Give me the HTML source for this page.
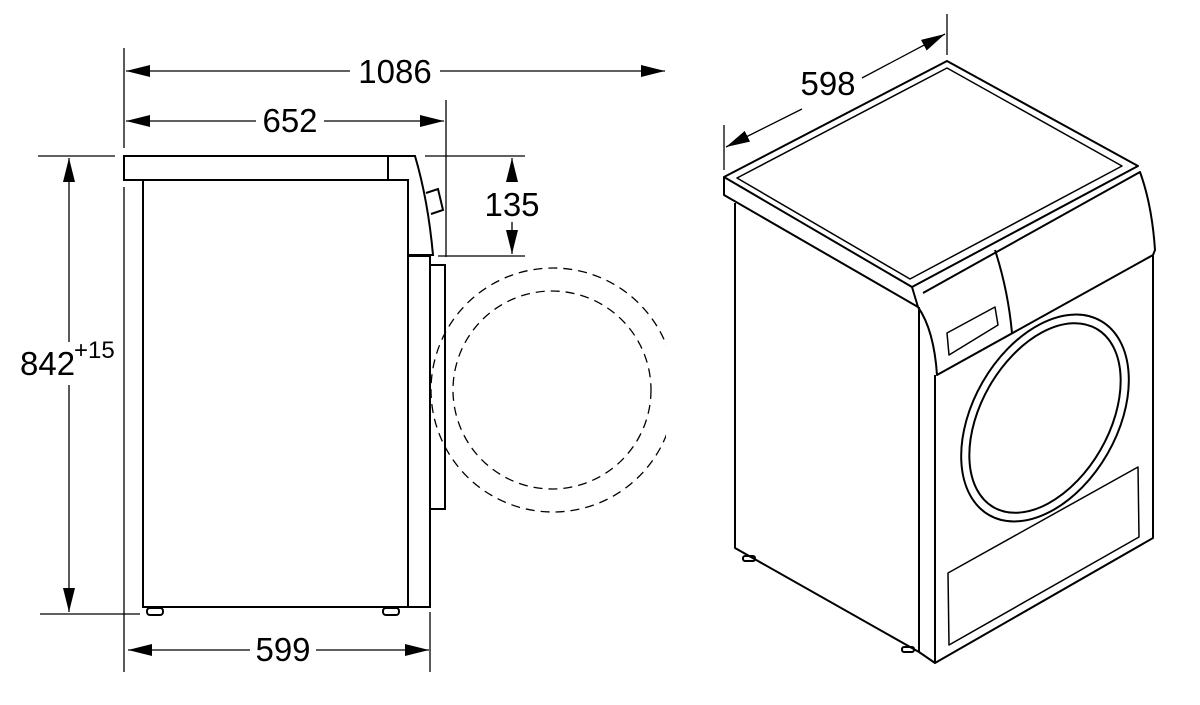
<!DOCTYPE html>
<html><head><meta charset="utf-8"><style>
html,body{margin:0;padding:0;background:#fff;}
svg{display:block;}
text{font-family:"Liberation Sans",Arial,sans-serif;fill:#000;}
</style></head><body>
<svg width="1200" height="705" viewBox="0 0 1200 705" xmlns="http://www.w3.org/2000/svg">
<defs>
<marker id="ar" viewBox="0 0 24 12" refX="24" refY="6" markerWidth="24" markerHeight="12" markerUnits="userSpaceOnUse" orient="auto-start-reverse">
<path d="M0,0 L24,6 L0,12 Z" fill="#000"/>
</marker>
<clipPath id="cc"><rect x="0" y="0" width="666" height="705"/></clipPath>
</defs>
<g stroke="#000" fill="none" stroke-width="1.3">
<line x1="124" y1="48" x2="124" y2="148"/>
<line x1="124" y1="187" x2="124" y2="672"/>
<line x1="446" y1="100" x2="446" y2="257"/>
<line x1="38" y1="156" x2="115" y2="156"/>
<line x1="40" y1="614" x2="140" y2="614"/>
<line x1="430" y1="612" x2="430" y2="672"/>
<line x1="425" y1="156" x2="525" y2="156"/>
<line x1="438" y1="256" x2="525" y2="256"/>
<line x1="126" y1="71" x2="350" y2="71" marker-start="url(#ar)"/>
<line x1="440" y1="71" x2="665" y2="71" marker-end="url(#ar)"/>
<line x1="126" y1="121" x2="256" y2="121" marker-start="url(#ar)"/>
<line x1="324" y1="121" x2="444" y2="121" marker-end="url(#ar)"/>
<line x1="128" y1="650" x2="250" y2="650" marker-start="url(#ar)"/>
<line x1="316" y1="650" x2="429" y2="650" marker-end="url(#ar)"/>
<line x1="69" y1="158" x2="69" y2="342" marker-start="url(#ar)"/>
<line x1="69" y1="385" x2="69" y2="612" marker-end="url(#ar)"/>
<line x1="512" y1="158" x2="512" y2="182" marker-start="url(#ar)"/>
<line x1="512" y1="222" x2="512" y2="254" marker-end="url(#ar)"/>
</g>
<text x="395" y="83" font-size="33" text-anchor="middle">1086</text>
<text x="290" y="132" font-size="33" text-anchor="middle">652</text>
<text x="283" y="661" font-size="33" text-anchor="middle">599</text>
<text x="512" y="216" font-size="33" text-anchor="middle">135</text>
<text x="20" y="375" font-size="33">842</text>
<text x="74" y="358" font-size="24">+15</text>

<g stroke="#000" fill="none" stroke-width="2">
<rect x="124" y="156" width="264" height="24"/>
<path d="M388,156 L415,156 Q428,200 433,255 L408,255 L408,180 L388,180"/>
<path d="M426,193 L438,189 L443,210 L431,214"/>
<rect x="143" y="180" width="265" height="427"/>
<rect x="408" y="256" width="22" height="351"/>
<rect x="430" y="265" width="15" height="244"/>
<rect x="147" y="608" width="16" height="7" rx="3"/>
<rect x="383" y="608" width="16" height="7" rx="3"/>
</g>
<g stroke="#000" fill="none" stroke-width="1.3" stroke-dasharray="9,6">
<circle cx="552" cy="390" r="99"/>
<circle cx="553" cy="390" r="122" clip-path="url(#cc)"/>
</g>

<g stroke="#000" fill="none" stroke-width="1.3">
<line x1="724" y1="125" x2="724" y2="170"/>
<line x1="947" y1="14" x2="947" y2="55"/>
<line x1="726" y1="147" x2="802" y2="109" marker-start="url(#ar)"/>
<line x1="862" y1="78" x2="945" y2="34" marker-end="url(#ar)"/>
</g>
<text x="828" y="95" font-size="33" text-anchor="middle">598</text>
<g stroke="#000" fill="none" stroke-width="2" stroke-linejoin="round">
<path d="M724,177 L947,61 L1138,166 L912,287 Z"/>
<path d="M737,178 L947,68 L1122,166 L910,279 Z" stroke-width="1.5"/>
<path d="M724,177 L724,195 L918,307 L912,287"/>
<path d="M923,293 L1140,172 Q1152,205 1155,250 L1153,255 L937,375 Q934,330 918,307"/>
<path d="M995,250 Q1008,290 1012,333"/>
<path d="M947,333 L995,307 L998,325 L949,355 Z" stroke-width="1.5"/>
<path d="M735,203 L735,548 L919,652 L919,307"/>
<path d="M935,375 L935,663 L1153,538 L1153,255"/>
<path d="M919,652 L935,663"/>
<path d="M948,573 L1138,467 L1139,537 L949,645 Z" stroke-width="1.5"/>
<ellipse cx="1045" cy="418" rx="72" ry="112" transform="rotate(30 1045 418)"/>
<ellipse cx="1045" cy="418" rx="64" ry="103" transform="rotate(30 1045 418)"/>
<rect x="743" y="556" width="12" height="5" rx="2"/>
<rect x="902" y="647" width="12" height="5" rx="2"/>
</g>
</svg>
</body></html>
